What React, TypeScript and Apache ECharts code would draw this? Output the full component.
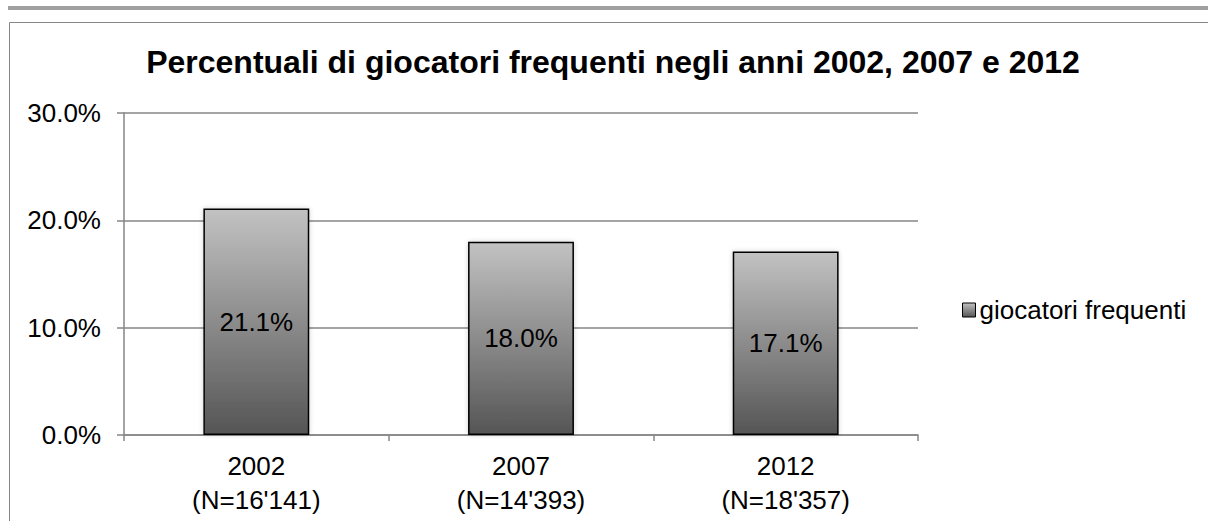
import React, { useEffect, useRef } from "react";
import * as echarts from "echarts";

const years = ["2002", "2007", "2012"];
const sampleSizes = ["N=16'141", "N=14'393", "N=18'357"];
const frequentPlayers = [21.1, 18.0, 17.1];
const seriesName = "giocatori frequenti";
const titleText = "Percentuali di giocatori frequenti negli anni 2002, 2007 e 2012";

const FONT = "'Liberation Sans', Arial, sans-serif";

export default function App() {
  const ref = useRef<HTMLDivElement>(null);
  useEffect(() => {
    document.body.style.margin = "0";
    const chart = echarts.init(ref.current!, null, { renderer: "svg" });
    const barGradient = new echarts.graphic.LinearGradient(0, 0, 0, 1, [
      { offset: 0, color: "#c2c2c2" },
      { offset: 1, color: "#555555" },
    ]);
    chart.setOption({
      animation: false,
      textStyle: { fontFamily: FONT },
      graphic: [
        { type: "rect", shape: { x: 8, y: 6, width: 1210, height: 4 }, style: { fill: "#a0a0a0" }, silent: true },
        { type: "rect", shape: { x: 9.5, y: 22.5, width: 1210, height: 520 }, style: { fill: "none", stroke: "#868686", lineWidth: 1 }, silent: true },
      ],
      title: {
        text: titleText,
        left: 608,
        textAlign: "center",
        top: 41,
        textStyle: { fontFamily: FONT, fontSize: 32, fontWeight: "bold", color: "#000" },
      },
      legend: {
        data: [{ name: seriesName, icon: "rect" }],
        left: 957,
        top: 292,
        itemWidth: 13,
        itemHeight: 14,
        itemGap: 4,
        itemStyle: { borderColor: "#000", borderWidth: 1 },
        textStyle: { fontFamily: FONT, fontSize: 26, color: "#000", padding: [0, 0, 0, -1] },
      },
      grid: { left: 124, top: 113, right: 290, bottom: 86, containLabel: false },
      xAxis: {
        type: "category",
        data: years,
        axisLine: { lineStyle: { color: "#868686", width: 1.5 } },
        axisTick: { show: true, length: 6, lineStyle: { color: "#868686", width: 1.5 } },
        axisLabel: {
          margin: 14,
          fontFamily: FONT,
          fontSize: 26,
          color: "#000",
          lineHeight: 34,
          formatter: (v: string, i: number) => `${v}\n(${sampleSizes[i]})`,
        },
      },
      yAxis: {
        type: "value",
        min: 0,
        max: 30,
        interval: 10,
        axisLine: { show: true, lineStyle: { color: "#868686", width: 1.5 } },
        axisTick: { show: true, length: 7, lineStyle: { color: "#868686", width: 1.5 } },
        splitLine: { lineStyle: { color: "#868686", width: 1.5 } },
        axisLabel: {
          margin: 23,
          fontFamily: FONT,
          fontSize: 26,
          color: "#000",
          formatter: (v: number) => v.toFixed(1) + "%",
        },
      },
      series: [
        {
          name: seriesName,
          type: "bar",
          data: frequentPlayers,
          barWidth: "40%",
          itemStyle: {
            color: barGradient,
            borderColor: "#000",
            borderWidth: 1.5,
            shadowColor: "rgba(0,0,0,0.18)",
            shadowBlur: 5,
          },
          label: {
            show: true,
            position: "inside",
            fontFamily: FONT,
            fontSize: 26,
            color: "#000",
            formatter: (p: any) => p.value.toFixed(1) + "%",
          },
        },
      ],
    });
    return () => chart.dispose();
  }, []);
  return <div ref={ref} style={{ width: 1208, height: 521 }} />;
}
